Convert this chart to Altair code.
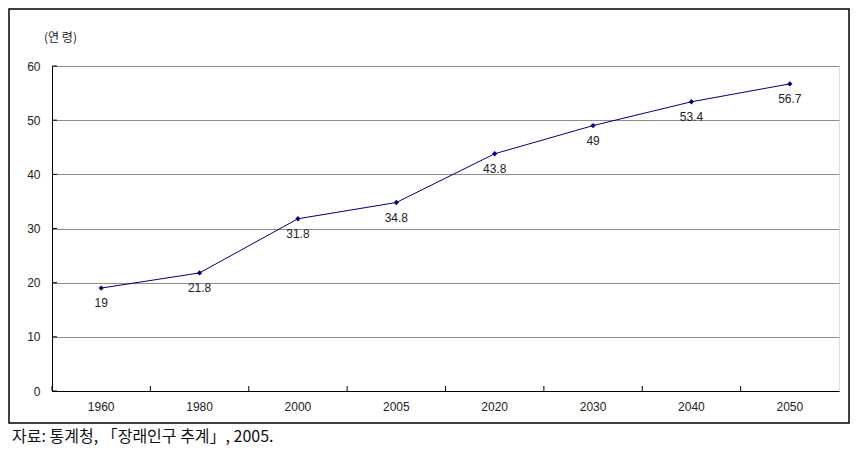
import altair as alt
import pandas as pd

years = ["1960", "1980", "2000", "2005", "2020", "2030", "2040", "2050"]
ages = [19, 21.8, 31.8, 34.8, 43.8, 49, 53.4, 56.7]
y_ticks = [0, 10, 20, 30, 40, 50, 60]
y_title = "(연 령)"
source = "자료: 통계청, 「장래인구 추계」, 2005."

df = pd.DataFrame({"year": years, "age": ages, "label": [f"{a:g}" for a in ages]})
ticks_df = pd.DataFrame({"v": y_ticks})
one = pd.DataFrame({"a": [0]})

W, H = 787, 325
FONT = "Liberation Sans"

xscale = alt.Scale(type="band", paddingInner=0, paddingOuter=0, domain=years)
yscale = alt.Scale(domain=[0, 60])

base = alt.Chart(df)

line = base.mark_line(color="#000080", strokeWidth=1).encode(
    x=alt.X("year:N", scale=xscale, bandPosition=0.5, sort=years,
            axis=alt.Axis(title=None, ticks=False, labelAngle=0, labelPadding=10,
                          labelFontSize=12, labelColor="#222222", labelFont=FONT,
                          domainColor="#000000", domainWidth=1, grid=False)),
    y=alt.Y("age:Q", scale=yscale,
            axis=alt.Axis(values=y_ticks, title=y_title, titleAngle=0, titleX=8, titleY=-29,
                          titleAlign="center", titleBaseline="middle", titleFontSize=12,
                          titleFontWeight="normal", titleFont="Noto Sans CJK KR", titleColor="#222222",
                          ticks=False, labelPadding=12, labelFontSize=12, labelColor="#222222",
                          labelFont=FONT, domainColor="#000000", domainWidth=1,
                          grid=True, gridColor="#8c8c8c", gridWidth=1)),
)

pts = base.mark_point(shape="diamond", filled=True, color="#000080", size=28, opacity=1).encode(
    x=alt.X("year:N", scale=xscale, bandPosition=0.5, sort=years),
    y=alt.Y("age:Q", scale=yscale),
)

labels = base.mark_text(dy=15, fontSize=12, color="#222222", font=FONT).encode(
    x=alt.X("year:N", scale=xscale, bandPosition=0.5, sort=years),
    y=alt.Y("age:Q", scale=yscale),
    text="label:N",
)

xtick = base.mark_rule(color="#000000", strokeWidth=1).encode(
    x=alt.X("year:N", scale=xscale, bandPosition=0, sort=years),
    y=alt.value(H),
    y2=alt.value(H - 5),
)

ytick = alt.Chart(ticks_df).mark_rule(color="#000000", strokeWidth=1).encode(
    y=alt.Y("v:Q", scale=yscale),
    x=alt.value(0),
    x2=alt.value(5),
)

frame = alt.Chart(one).mark_rect(filled=False, stroke="#000000", strokeWidth=1.5).encode(
    x=alt.value(-43), x2=alt.value(797), y=alt.value(-57), y2=alt.value(357),
)

src = alt.Chart(one).mark_text(align="left", baseline="middle", fontSize=16,
                                font="Noto Sans CJK KR", color="#111111").encode(
    x=alt.value(-40), y=alt.value(371), text=alt.value(source),
)

chart = alt.layer(frame, line, xtick, ytick, pts, labels, src).properties(
    width=W, height=H,
    padding={"left": 44, "top": 58, "right": 12, "bottom": 57},
    autosize=alt.AutoSizeParams(type="none"),
).configure_view(stroke=None).configure(background="white")

chart.save("out.html", embed_options={"renderer": "svg", "actions": False})
